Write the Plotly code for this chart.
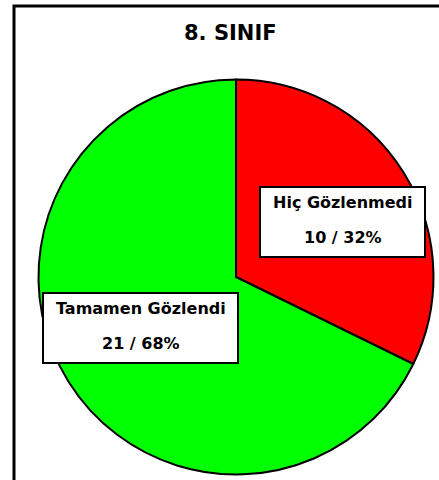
import plotly.graph_objects as go

title = "8. SINIF"
labels = ["Hiç Gözlenmedi", "Tamamen Gözlendi"]
values = [10, 21]
colors = ["#FF0000", "#00FF00"]

W, H = 439, 480
total = sum(values)
pct = [round(v * 100 / total) for v in values]

def px(x):
    return x / W

def py(y):
    return 1 - y / H

cx, cy, r = 236, 277, 197.5
FONT = "DejaVu Sans"

fig = go.Figure(go.Pie(
    labels=labels, values=values, sort=False, direction="clockwise", rotation=0,
    marker=dict(colors=colors, line=dict(color="black", width=2)),
    textinfo="none", hoverinfo="label+value+percent", showlegend=False,
    domain=dict(x=[px(cx - r), px(cx + r)], y=[py(cy + r), py(cy - r)]),
))

boxes = [(260, 187, 425, 257), (43, 293, 238, 363)]
shapes = [dict(type="rect", xref="paper", yref="paper",
               x0=px(14), x1=px(450), y0=py(495), y1=py(6),
               line=dict(color="black", width=3), fillcolor="rgba(0,0,0,0)")]
annotations = [dict(text=f"<b>{title}</b>", x=px(230), y=py(33), xref="paper", yref="paper",
                    showarrow=False, font=dict(family=FONT, size=21, color="black"),
                    xanchor="center", yanchor="middle")]
for (x0, y0, x1, y1), lab, v, p in zip(boxes, labels, values, pct):
    shapes.append(dict(type="rect", xref="paper", yref="paper",
                       x0=px(x0), x1=px(x1), y0=py(y1), y1=py(y0),
                       line=dict(color="black", width=2), fillcolor="white", layer="above"))
    xc = (x0 + x1) / 2
    annotations.append(dict(text=f"<b>{lab}</b>", x=px(xc), y=py(y0 + 15), xref="paper", yref="paper",
                            showarrow=False, font=dict(family=FONT, size=16, color="black"),
                            xanchor="center", yanchor="middle"))
    annotations.append(dict(text=f"<b>{v} / {p}%</b>", x=px(xc), y=py(y0 + 50), xref="paper", yref="paper",
                            showarrow=False, font=dict(family=FONT, size=16, color="black"),
                            xanchor="center", yanchor="middle"))

fig.update_layout(width=W, height=H, margin=dict(l=0, r=0, t=0, b=0),
                  paper_bgcolor="white", plot_bgcolor="white",
                  shapes=shapes, annotations=annotations)
fig.write_html("out.html", config={"displayModeBar": False},
               post_script="document.body.style.margin='0';document.body.style.overflow='hidden';")
